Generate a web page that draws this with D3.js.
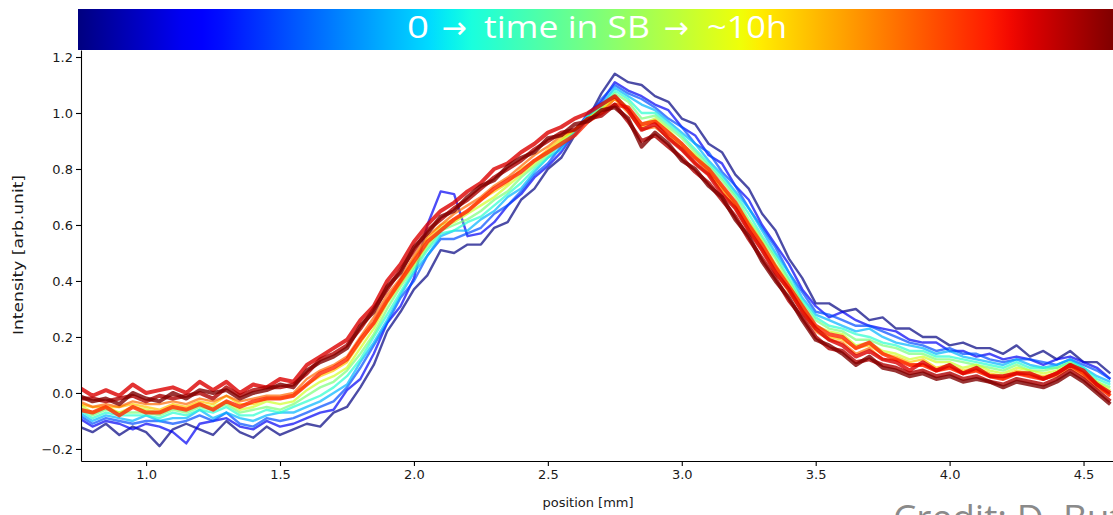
<!DOCTYPE html>
<html>
<head>
<meta charset="utf-8">
<script src="https://cdn.jsdelivr.net/npm/d3@7"></script>
<style>
  body { margin: 0; background: #fff; }
  svg { display: block; }
</style>
</head>
<body>
<svg id="chart" width="1113" height="515"></svg>
<script>
// position grid [mm]
const positions = [0.75,0.80,0.85,0.90,0.95,1.00,1.05,1.10,1.15,1.20,
  1.25,1.30,1.35,1.40,1.45,1.50,1.55,1.60,1.65,1.70,
  1.75,1.80,1.85,1.90,1.95,2.00,2.05,2.10,2.15,2.20,
  2.25,2.30,2.35,2.40,2.45,2.50,2.55,2.60,2.65,2.70,
  2.75,2.80,2.85,2.90,2.95,3.00,3.05,3.10,3.15,3.20,
  3.25,3.30,3.35,3.40,3.45,3.50,3.55,3.60,3.65,3.70,
  3.75,3.80,3.85,3.90,3.95,4.00,4.05,4.10,4.15,4.20,
  4.25,4.30,4.35,4.40,4.45,4.50,4.55,4.60];

// fraction of the ~10h in stable beams for each profile (0 = start, 1 = end)
const timeFrac = [0, 0.1, 0.2, 0.3, 0.4, 0.5, 0.6, 0.7, 0.8, 0.87, 0.92, 0.96, 1.0];

// intensity profiles [arb.unit]
const prof00 = [-0.12,-0.14,-0.11,-0.15,-0.12,-0.14,-0.19,-0.13,-0.11,-0.13,-0.15,-0.10,-0.14,-0.16,-0.12,-0.15,-0.13,-0.11,-0.12,-0.07,-0.05,0.02,0.10,0.22,0.29,0.37,0.42,0.51,0.50,0.53,0.53,0.59,0.61,0.69,0.73,0.80,0.84,0.92,0.98,1.07,1.14,1.11,1.10,1.06,1.04,0.98,0.96,0.89,0.86,0.78,0.73,0.64,0.58,0.48,0.41,0.32,0.32,0.29,0.30,0.26,0.27,0.23,0.23,0.20,0.20,0.17,0.18,0.16,0.16,0.14,0.17,0.13,0.15,0.12,0.15,0.11,0.11,0.07];
const prof01 = [-0.09,-0.12,-0.10,-0.11,-0.13,-0.11,-0.12,-0.14,-0.18,-0.11,-0.10,-0.09,-0.12,-0.13,-0.10,-0.12,-0.11,-0.09,-0.07,-0.06,0.01,0.05,0.14,0.25,0.31,0.41,0.60,0.72,0.71,0.56,0.57,0.61,0.67,0.71,0.77,0.81,0.86,0.93,1.00,1.04,1.11,1.08,1.06,1.03,1.01,0.95,0.92,0.85,0.82,0.74,0.69,0.60,0.53,0.46,0.37,0.31,0.27,0.29,0.26,0.24,0.23,0.22,0.19,0.18,0.18,0.15,0.15,0.13,0.14,0.12,0.13,0.12,0.10,0.12,0.13,0.11,0.09,0.05];
const prof02 = [-0.08,-0.11,-0.09,-0.10,-0.11,-0.10,-0.10,-0.11,-0.10,-0.08,-0.10,-0.07,-0.11,-0.12,-0.09,-0.10,-0.09,-0.07,-0.05,-0.03,0.02,0.09,0.17,0.25,0.34,0.40,0.49,0.55,0.55,0.57,0.59,0.64,0.67,0.72,0.78,0.82,0.88,0.92,0.98,1.05,1.10,1.07,1.05,1.02,0.98,0.95,0.89,0.86,0.79,0.74,0.66,0.59,0.52,0.43,0.36,0.29,0.28,0.26,0.24,0.24,0.22,0.20,0.18,0.17,0.15,0.16,0.14,0.14,0.12,0.11,0.12,0.12,0.11,0.10,0.12,0.10,0.08,0.05];
const prof03 = [-0.07,-0.10,-0.08,-0.09,-0.10,-0.08,-0.10,-0.09,-0.09,-0.06,-0.09,-0.07,-0.09,-0.10,-0.08,-0.07,-0.07,-0.05,-0.03,0.00,0.03,0.11,0.18,0.26,0.35,0.43,0.49,0.56,0.58,0.58,0.62,0.65,0.70,0.73,0.79,0.84,0.87,0.94,0.99,1.03,1.09,1.06,1.03,1.01,0.97,0.93,0.89,0.83,0.78,0.72,0.66,0.58,0.50,0.43,0.34,0.28,0.26,0.24,0.22,0.23,0.20,0.18,0.17,0.16,0.14,0.15,0.13,0.12,0.11,0.10,0.12,0.10,0.09,0.10,0.12,0.09,0.06,0.04];
const prof04 = [-0.06,-0.09,-0.07,-0.08,-0.08,-0.08,-0.09,-0.07,-0.08,-0.06,-0.07,-0.05,-0.08,-0.08,-0.06,-0.07,-0.05,-0.03,-0.01,0.02,0.06,0.12,0.20,0.28,0.36,0.44,0.51,0.57,0.58,0.61,0.63,0.67,0.71,0.75,0.80,0.84,0.89,0.93,0.99,1.02,1.08,1.05,1.00,1.00,0.96,0.92,0.87,0.82,0.77,0.71,0.64,0.56,0.49,0.41,0.33,0.27,0.24,0.23,0.21,0.20,0.18,0.17,0.15,0.15,0.13,0.13,0.12,0.11,0.10,0.09,0.11,0.09,0.09,0.09,0.11,0.09,0.05,0.03];
const prof05 = [-0.05,-0.08,-0.06,-0.07,-0.07,-0.07,-0.08,-0.06,-0.07,-0.05,-0.06,-0.04,-0.07,-0.06,-0.05,-0.06,-0.04,-0.01,0.02,0.04,0.08,0.14,0.21,0.30,0.38,0.45,0.52,0.58,0.60,0.62,0.65,0.69,0.72,0.77,0.81,0.85,0.90,0.94,0.98,1.02,1.07,1.04,0.98,0.99,0.95,0.91,0.86,0.81,0.76,0.70,0.62,0.55,0.48,0.40,0.32,0.26,0.23,0.22,0.19,0.19,0.17,0.16,0.14,0.14,0.12,0.12,0.11,0.10,0.09,0.08,0.10,0.08,0.08,0.09,0.11,0.08,0.04,0.02];
const prof06 = [-0.04,-0.07,-0.05,-0.07,-0.05,-0.06,-0.07,-0.05,-0.06,-0.04,-0.05,-0.03,-0.06,-0.05,-0.03,-0.04,-0.03,0.01,0.04,0.06,0.09,0.16,0.23,0.32,0.39,0.46,0.53,0.59,0.61,0.64,0.67,0.70,0.74,0.78,0.82,0.86,0.90,0.94,0.98,1.01,1.06,1.02,0.96,0.98,0.94,0.89,0.85,0.80,0.74,0.68,0.61,0.54,0.46,0.39,0.31,0.24,0.22,0.21,0.17,0.18,0.15,0.14,0.12,0.13,0.11,0.11,0.09,0.10,0.08,0.07,0.09,0.08,0.07,0.08,0.10,0.07,0.04,0.01];
const prof07 = [-0.04,-0.05,-0.05,-0.05,-0.04,-0.05,-0.06,-0.04,-0.05,-0.03,-0.04,-0.01,-0.04,-0.04,-0.02,-0.02,-0.01,0.03,0.06,0.08,0.11,0.18,0.25,0.33,0.40,0.48,0.55,0.60,0.62,0.65,0.69,0.72,0.75,0.80,0.83,0.87,0.91,0.94,0.98,1.01,1.05,1.01,0.95,0.97,0.92,0.88,0.84,0.79,0.73,0.67,0.60,0.52,0.45,0.37,0.30,0.23,0.20,0.19,0.16,0.17,0.14,0.13,0.11,0.12,0.09,0.10,0.08,0.09,0.07,0.06,0.08,0.07,0.06,0.07,0.10,0.07,0.03,0.00];
const prof08 = [-0.03,-0.05,-0.04,-0.05,-0.03,-0.04,-0.04,-0.03,-0.04,-0.02,-0.03,-0.01,-0.03,-0.02,-0.01,-0.01,0.00,0.05,0.08,0.10,0.13,0.20,0.27,0.35,0.41,0.49,0.56,0.60,0.64,0.67,0.70,0.74,0.77,0.81,0.85,0.88,0.92,0.94,0.98,1.00,1.05,1.00,0.94,0.95,0.91,0.87,0.82,0.78,0.72,0.66,0.58,0.51,0.43,0.36,0.29,0.22,0.19,0.18,0.14,0.16,0.12,0.12,0.10,0.10,0.08,0.09,0.07,0.08,0.06,0.05,0.07,0.06,0.05,0.06,0.09,0.06,0.02,-0.01];
const prof09 = [-0.06,-0.07,-0.05,-0.08,-0.05,-0.07,-0.07,-0.05,-0.06,-0.04,-0.06,-0.03,-0.05,-0.03,-0.02,-0.02,-0.01,0.03,0.07,0.09,0.12,0.19,0.25,0.33,0.40,0.47,0.54,0.58,0.62,0.65,0.69,0.73,0.76,0.79,0.83,0.86,0.89,0.92,0.97,1.00,1.03,1.02,0.96,0.97,0.93,0.89,0.84,0.80,0.74,0.68,0.60,0.53,0.45,0.38,0.31,0.24,0.21,0.20,0.16,0.18,0.14,0.12,0.10,0.10,0.08,0.09,0.07,0.08,0.06,0.05,0.07,0.06,0.05,0.07,0.10,0.07,0.03,-0.01];
const prof10 = [0.02,-0.01,0.01,-0.01,0.03,0.00,0.01,0.02,0.00,0.04,0.01,0.04,0.00,0.03,0.02,0.05,0.04,0.10,0.13,0.16,0.19,0.26,0.31,0.40,0.46,0.54,0.60,0.65,0.68,0.72,0.75,0.80,0.82,0.86,0.89,0.93,0.95,0.98,1.00,1.03,1.06,1.01,0.94,0.96,0.91,0.87,0.82,0.78,0.71,0.66,0.58,0.51,0.43,0.37,0.29,0.23,0.19,0.17,0.13,0.15,0.12,0.11,0.08,0.11,0.08,0.10,0.07,0.09,0.06,0.06,0.07,0.07,0.05,0.07,0.10,0.08,0.03,0.00];
const prof11 = [-0.02,-0.02,-0.03,-0.02,-0.01,-0.03,-0.01,-0.02,-0.01,0.00,-0.02,0.02,-0.01,0.01,0.02,0.02,0.03,0.07,0.12,0.14,0.17,0.23,0.30,0.37,0.44,0.51,0.58,0.62,0.66,0.69,0.73,0.77,0.80,0.83,0.87,0.90,0.93,0.94,0.98,0.99,1.03,0.97,0.90,0.92,0.88,0.84,0.79,0.75,0.69,0.63,0.55,0.48,0.41,0.33,0.27,0.20,0.16,0.15,0.11,0.12,0.10,0.09,0.07,0.08,0.06,0.07,0.05,0.06,0.04,0.03,0.05,0.04,0.03,0.05,0.08,0.05,0.01,-0.03];
const prof12 = [-0.01,-0.03,-0.02,-0.04,0.00,-0.02,-0.03,0.00,-0.02,0.01,0.00,0.01,-0.02,0.00,0.01,0.03,0.02,0.08,0.11,0.13,0.16,0.24,0.29,0.38,0.43,0.52,0.57,0.63,0.65,0.70,0.74,0.76,0.81,0.84,0.86,0.91,0.92,0.96,0.97,1.01,1.02,0.98,0.88,0.93,0.89,0.83,0.80,0.74,0.70,0.62,0.56,0.47,0.40,0.34,0.26,0.19,0.17,0.14,0.10,0.13,0.09,0.08,0.06,0.07,0.05,0.06,0.04,0.05,0.04,0.02,0.04,0.03,0.02,0.04,0.07,0.04,0.00,-0.04];

const profiles = [prof00, prof01, prof02, prof03, prof04, prof05, prof06,
                  prof07, prof08, prof09, prof10, prof11, prof12];

const xTicks = [1.0, 1.5, 2.0, 2.5, 3.0, 3.5, 4.0, 4.5];
const yTicks = [-0.2, 0.0, 0.2, 0.4, 0.6, 0.8, 1.0, 1.2];

const svg = d3.select("#chart");
const plot = { left: 81, right: 1113, top: 50, bottom: 461 };

const x = d3.scaleLinear().domain([0.757, 4.61]).range([plot.left, plot.right]);
const y = d3.scaleLinear().domain([-0.243, 1.225]).range([plot.bottom, plot.top]);

// matplotlib "jet"
const jr = d3.scaleLinear([0, 0.35, 0.66, 0.89, 1], [0, 0, 1, 1, 0.5]).clamp(true);
const jg = d3.scaleLinear([0, 0.125, 0.375, 0.64, 0.91, 1], [0, 0, 1, 1, 0, 0]).clamp(true);
const jb = d3.scaleLinear([0, 0.11, 0.34, 0.65, 1], [0.5, 1, 1, 0, 0]).clamp(true);
const jet = t => d3.rgb(jr(t) * 255, jg(t) * 255, jb(t) * 255).formatHex();

const defs = svg.append("defs");
defs.append("clipPath").attr("id", "plotclip")
  .append("rect")
  .attr("x", plot.left).attr("y", plot.top)
  .attr("width", plot.right - plot.left).attr("height", plot.bottom - plot.top);

// profiles, earliest first so the late (red) ones end up on top
const line = d3.line()
  .defined((d, i) => i < positions.length)
  .x((d, i) => x(positions[i]))
  .y(d => y(d));

svg.append("g")
  .attr("clip-path", "url(#plotclip)")
  .selectAll("path")
  .data(profiles)
  .join("path")
  .attr("d", line)
  .attr("fill", "none")
  .attr("stroke", (d, i) => jet(timeFrac[i]))
  .attr("stroke-width", (d, i) => timeFrac[i] > 0.85 ? 4 : 2.4)
  .attr("stroke-opacity", (d, i) => timeFrac[i] > 0.85 ? 0.8 : 0.7)
  .attr("stroke-linejoin", "round");

// axes
const fmt = d3.format(".1f");
const yAxis = svg.append("g")
  .attr("transform", `translate(${plot.left},0)`)
  .call(d3.axisLeft(y).tickValues(yTicks).tickFormat(fmt).tickSize(5).tickSizeOuter(0));
const xAxis = svg.append("g")
  .attr("transform", `translate(0,${plot.bottom})`)
  .call(d3.axisBottom(x).tickValues(xTicks).tickFormat(fmt).tickSize(5).tickSizeOuter(0));

[xAxis, yAxis].forEach(g => {
  g.selectAll("path, line").attr("stroke", "#000").attr("stroke-width", 1.1);
  g.selectAll("text")
    .attr("font-family", "DejaVu Sans, sans-serif")
    .attr("font-size", 13)
    .attr("fill", "#1a1a1a");
});
yAxis.selectAll("text").attr("x", -8);
xAxis.selectAll("text").attr("y", 9);

svg.append("text")
  .attr("transform", "translate(23,255) rotate(-90)")
  .attr("text-anchor", "middle")
  .attr("font-family", "DejaVu Sans, sans-serif")
  .attr("font-size", 14)
  .attr("textLength", 160)
  .attr("lengthAdjust", "spacingAndGlyphs")
  .attr("fill", "#1a1a1a")
  .text("Intensity [arb.unit]");

svg.append("text")
  .attr("x", 588).attr("y", 507)
  .attr("text-anchor", "middle")
  .attr("font-family", "DejaVu Sans, sans-serif")
  .attr("font-size", 13)
  .attr("fill", "#1a1a1a")
  .text("position [mm]");

// colour bar
const grad = defs.append("linearGradient").attr("id", "jetgrad");
grad.selectAll("stop")
  .data(d3.range(0, 1.0001, 0.02))
  .join("stop")
  .attr("offset", d => d)
  .attr("stop-color", d => jet(d));

svg.append("rect")
  .attr("x", 78).attr("y", 9)
  .attr("width", 1113 - 78).attr("height", 41)
  .attr("fill", "url(#jetgrad)");

const barText = svg.append("g")
  .attr("fill", "#fff")
  .attr("font-family", "Open Sans, sans-serif")
  .attr("font-size", 31);
barText.append("text").attr("x", 407).attr("y", 38)
  .attr("textLength", 22).attr("lengthAdjust", "spacingAndGlyphs").text("0");
barText.append("text").attr("x", 484).attr("y", 38)
  .attr("textLength", 166).attr("lengthAdjust", "spacingAndGlyphs").text("time in SB");
barText.append("text").attr("x", 707).attr("y", 38)
  .attr("textLength", 80).attr("lengthAdjust", "spacingAndGlyphs").text("~10h");
barText.selectAll(null)
  .data([454, 676])
  .join("text")
  .attr("x", d => d).attr("y", 38)
  .attr("text-anchor", "middle")
  .attr("font-family", "DejaVu Sans, sans-serif")
  .attr("font-size", 30)
  .text("\u2192");

svg.append("text")
  .attr("x", 893).attr("y", 531)
  .attr("font-family", "Open Sans, sans-serif")
  .attr("font-size", 37)
  .attr("fill", "#8a8a8a")
  .text("Credit: D. Butti");
</script>
</body>
</html>
